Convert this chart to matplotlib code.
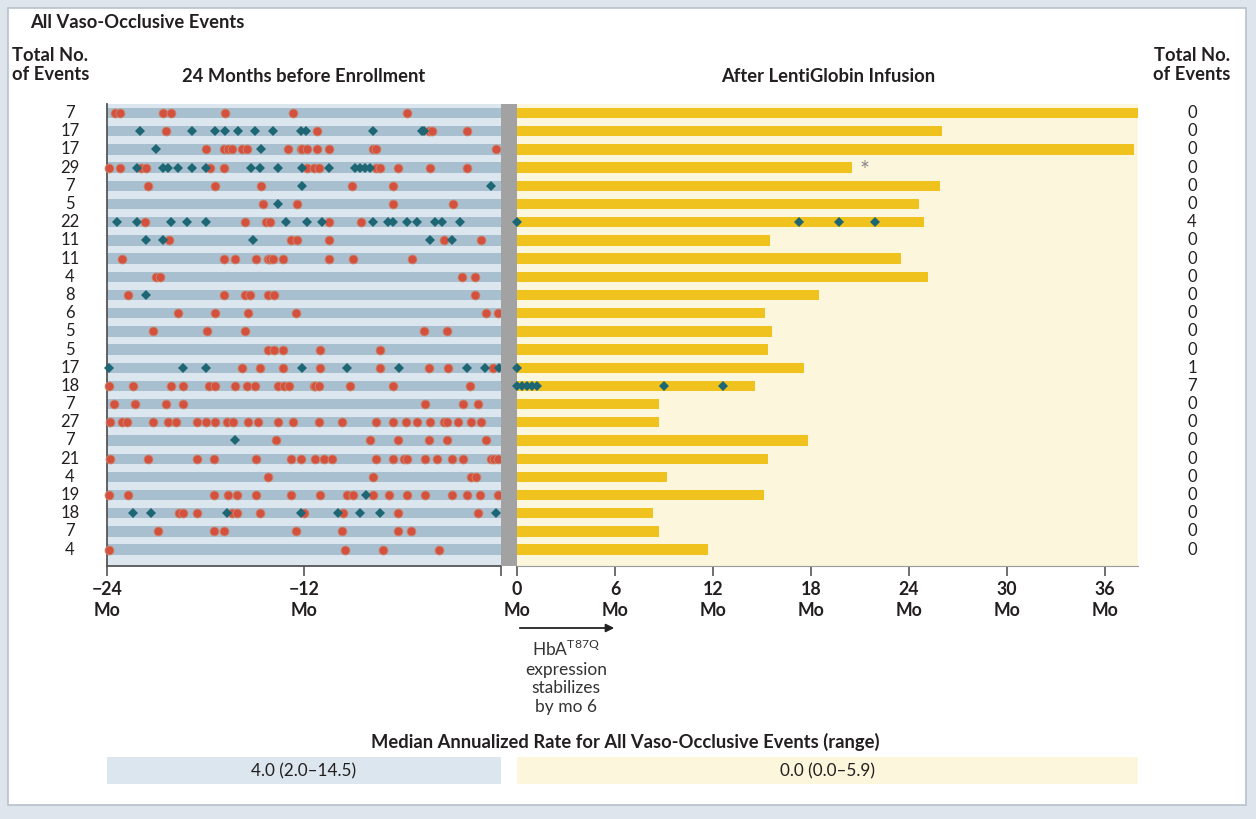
import matplotlib
matplotlib.use("Agg")
import matplotlib.pyplot as plt
from matplotlib.patches import Rectangle, FancyArrowPatch
from matplotlib.transforms import blended_transform_factory

plt.rcParams['font.family'] = ['Lato', 'DejaVu Sans']

# ---- data (months relative to enrollment / infusion) ----
total_before = [7, 17, 17, 29, 7, 5, 22, 11, 11, 4, 8, 6, 5, 5, 17, 18, 7, 27, 7, 21, 4, 19, 18, 7, 4]
total_after = [0, 0, 0, 0, 0, 0, 4, 0, 0, 0, 0, 0, 0, 0, 1, 7, 0, 0, 0, 0, 0, 0, 0, 0, 0]

# follow-up after LentiGlobin infusion (months)
followup = [38.0, 26.0, 37.8, 20.5, 25.9, 24.6, 24.9, 15.5, 23.5, 25.2, 18.5, 15.2, 15.6,
            15.4, 17.6, 14.6, 8.7, 8.7, 17.8, 15.4, 9.2, 15.1, 8.3, 8.7, 11.7]

# events before enrollment, red (circle) markers
red_before = [
    [-23.5, -23.2, -20.6, -20.1, -16.8, -12.7, -5.7],
    [-20.4, -11.2, -4.4, -4.2, -2.1],
    [-18.0, -16.9, -16.6, -16.4, -15.8, -15.5, -13.0, -12.2, -12.1, -11.8, -11.2, -10.5, -7.8, -7.6, -0.3],
    [-23.9, -23.2, -21.9, -21.6, -17.7, -16.9, -11.8, -11.4, -11.1, -7.6, -7.4, -6.3, -4.3, -2.1],
    [-21.5, -17.4, -14.6, -9.1, -6.6],
    [-14.5, -12.4, -6.6, -2.9],
    [-21.7, -15.6, -14.3, -14.1, -10.5, -8.5],
    [-20.2, -12.8, -12.4, -10.5, -3.5, -1.2],
    [-23.1, -16.9, -16.2, -14.9, -14.2, -14.1, -13.9, -13.3, -10.5, -9.0, -5.4],
    [-21.0, -20.8, -2.4, -1.6],
    [-22.7, -16.9, -15.6, -15.3, -14.2, -13.8, -1.6],
    [-19.7, -17.4, -15.4, -12.5, -0.9, -0.2],
    [-21.2, -17.9, -15.6, -4.7, -3.3],
    [-14.2, -13.8, -13.3, -11.0, -7.4],
    [-15.8, -14.7, -13.3, -11.0, -7.4, -4.4, -3.2, -0.5],
    [-23.9, -22.4, -20.1, -19.4, -17.8, -17.4, -16.2, -15.5, -15.0, -13.6, -13.2, -12.9,
     -11.4, -11.3, -11.1, -9.2, -6.6, -1.9],
    [-23.6, -22.3, -20.4, -19.4, -4.6, -2.3, -1.4],
    [-23.8, -23.1, -22.8, -21.2, -20.3, -19.8, -18.5, -18.0, -17.4, -16.7, -16.3, -15.4, -14.8,
     -13.6, -12.7, -11.1, -9.7, -7.6, -6.6, -5.8, -5.1, -4.3, -3.5, -3.3, -2.6, -1.8, -1.2],
    [-13.7, -8.0, -6.3, -4.4, -3.3, -0.9],
    [-23.8, -21.5, -18.5, -17.5, -14.9, -12.8, -12.2, -11.3, -10.8, -10.3, -7.6, -6.6, -5.9,
     -5.7, -4.6, -3.9, -3.0, -2.3, -0.6, -0.4, -0.2],
    [-14.2, -7.8, -1.8, -1.5],
    [-23.9, -22.7, -17.5, -16.6, -16.1, -14.9, -12.8, -11.0, -9.4, -9.0, -7.8, -6.8, -5.7,
     -4.6, -3.0, -2.1, -1.3, -0.2],
    [-19.6, -19.4, -18.5, -16.4, -16.1, -14.7, -12.0, -9.6, -6.3, -1.4],
    [-20.9, -17.5, -16.9, -12.5, -9.7, -6.3, -5.5],
    [-23.9, -9.5, -7.2, -3.8],
]

# events before enrollment, teal (diamond) markers
teal_before = [
    [],
    [-22.0, -18.8, -17.4, -16.8, -16.0, -15.0, -13.9, -12.2, -11.9, -7.8, -4.8, -4.7],
    [-21.0, -14.6],
    [-22.2, -20.6, -20.3, -19.7, -18.8, -18.0, -15.2, -14.7, -13.6, -12.1, -10.5, -8.9, -8.6, -8.3, -8.0],
    [-12.1, -0.6],
    [-13.6],
    [-23.4, -22.2, -20.1, -19.1, -18.0, -13.1, -11.8, -10.9, -7.8, -6.9, -6.6, -5.7, -5.1, -4.0, -3.6, -2.5],
    [-21.6, -20.6, -15.1, -4.3, -3.0],
    [], [], [-21.6], [], [], [],
    [-23.9, -19.4, -18.0, -12.1, -9.4, -6.2, -2.1, -1.0, -0.1],
    [], [], [],
    [-16.2],
    [], [],
    [-8.2],
    [-22.4, -21.3, -16.7, -12.2, -9.9, -8.6, -7.4, -0.3],
    [], [],
]

# events after infusion (teal diamonds)
teal_after = {7: [0.0, 17.3, 19.7, 21.9], 15: [0.0], 16: [0.0, 0.3, 0.6, 0.9, 1.2, 9.0, 12.6]}

before_ticks = [-24, -12, 0]
after_ticks = [0, 6, 12, 18, 24, 30, 36]
rate_before = "4.0 (2.0\u201314.5)"
rate_after = "0.0 (0.0\u20135.9)"

# ---- styling ----
W, H = 1256, 819
BLUE_BG = '#dce6ee'
BLUE_STRIPE = '#a8bfd0'
CREAM = '#fbf6dc'
YELLOW = '#efc21d'
RED = '#d5513f'
TEAL = '#1d6674'
GRAY = '#a2a2a2'
TXT = '#231f20'
FS_HEAD = 13.2


def px_rect(x0, y0, x1, y1):
    return [x0 / W, 1 - y1 / H, (x1 - x0) / W, (y1 - y0) / H]


fig = plt.figure(figsize=(W / 100, H / 100), dpi=100)
fig.patch.set_facecolor('#dfe5ec')
fig.patches.append(Rectangle((8 / W, 1 - 805 / H), 1238 / W, 797 / H, transform=fig.transFigure,
                             facecolor='white', edgecolor='#b8c2cc', lw=1.2, zorder=-5))

rows = list(range(1, len(total_before) + 1))
ylim = (25.9, 0.5)

ax_l = fig.add_axes(px_rect(107, 104, 501, 566))
ax_g = fig.add_axes(px_rect(501, 104, 517, 566))
ax_r = fig.add_axes(px_rect(517, 104, 1138, 566))

# left panel
ax_l.set_facecolor(BLUE_BG)
ax_l.barh(rows, 25, left=-24.5, height=0.57, color=BLUE_STRIPE, zorder=1)
for r, xs in zip(rows, red_before):
    ax_l.plot(xs, [r] * len(xs), 'o', ms=6.4, color=RED, mec='#c98a6e', mew=0.6, zorder=3, clip_on=False)
for r, xs in zip(rows, teal_before):
    ax_l.plot(xs, [r] * len(xs), 'D', ms=5.3, color=TEAL, mew=0, zorder=4, clip_on=False)
ax_l.set_xlim(-24, 0)
ax_l.set_ylim(*ylim)
ax_l.set_yticks([])
ax_l.set_xticks(before_ticks)
# the 0 label is shared with the right panel
ax_l.set_xticklabels([f"\u2212{-t}\nMo" if t < 0 else "" for t in before_ticks])
for s in ['top', 'right']:
    ax_l.spines[s].set_visible(False)
for s in ['left', 'bottom']:
    ax_l.spines[s].set_color('#555555')
    ax_l.spines[s].set_linewidth(1.3)

# gray separator
ax_g.set_facecolor(GRAY)
ax_g.set_xticks([])
ax_g.set_yticks([])
for s in ax_g.spines.values():
    s.set_visible(False)

# right panel
ax_r.set_facecolor(CREAM)
ax_r.barh(rows, followup, left=0, height=0.57, color=YELLOW, zorder=1)
for r, xs in teal_after.items():
    ax_r.plot(xs, [r] * len(xs), 'D', ms=5.3, color=TEAL, mew=0, zorder=4, clip_on=False)
ax_r.text(followup[3] + 0.45, 4.15, '*', color='#888888', fontsize=17, va='center', ha='left')
ax_r.set_xlim(0, 38.03)
ax_r.set_ylim(*ylim)
ax_r.set_yticks([])
ax_r.set_xticks(after_ticks)
ax_r.set_xticklabels([f"{t}\nMo" for t in after_ticks])
for s in ['top', 'right', 'left']:
    ax_r.spines[s].set_visible(False)
ax_r.spines['bottom'].set_color('#999999')
ax_r.spines['bottom'].set_linewidth(0.8)

for ax in (ax_l, ax_r):
    ax.tick_params(axis='x', direction='out', length=7, width=1.2, color='#555555',
                   labelsize=12.8, labelcolor=TXT, pad=4)
    for lbl in ax.get_xticklabels():
        lbl.set_fontweight('bold')
        lbl.set_linespacing(1.25)

# row totals
tl = blended_transform_factory(fig.transFigure, ax_l.transData)
for r, n_b, n_a in zip(rows, total_before, total_after):
    fig.text(70 / W, r, str(n_b), transform=tl, ha='center', va='center', fontsize=12, color=TXT)
    fig.text(1192 / W, r, str(n_a), transform=tl, ha='center', va='center', fontsize=12, color=TXT)

# headers
fig.text(30 / W, 1 - 22 / H, "All Vaso-Occlusive Events", fontsize=FS_HEAD, fontweight='bold',
         color=TXT, va='center', ha='left')
fig.text(12 / W, 1 - 65 / H, "Total No.\nof Events", fontsize=FS_HEAD, fontweight='bold',
         color=TXT, va='center', ha='left', linespacing=1.1)
fig.text(1192 / W, 1 - 65 / H, "Total No.\nof Events", fontsize=FS_HEAD, fontweight='bold',
         color=TXT, va='center', ha='center', linespacing=1.1)
fig.text(304 / W, 1 - 76 / H, "24 Months before Enrollment", fontsize=FS_HEAD, fontweight='bold',
         color=TXT, va='center', ha='center')
fig.text(828 / W, 1 - 76 / H, "After LentiGlobin Infusion", fontsize=FS_HEAD, fontweight='bold',
         color=TXT, va='center', ha='center')

# HbA annotation
fig.patches.append(FancyArrowPatch((517 / W, 1 - 628 / H), (617 / W, 1 - 628 / H),
                                   transform=fig.transFigure, arrowstyle='-|>',
                                   mutation_scale=12, color='#222222', lw=1.3))
fig.text(566 / W, 1 - 677 / H, "HbA$^{\\mathregular{T87Q}}$\nexpression\nstabilizes\nby mo 6",
         fontsize=12.5, color='#333333', ha='center', va='center', linespacing=1.2)

# median annualized rate
fig.text(625 / W, 1 - 742 / H, "Median Annualized Rate for All Vaso-Occlusive Events (range)",
         fontsize=FS_HEAD, fontweight='bold', color=TXT, ha='center', va='center')
fig.patches.append(Rectangle((107 / W, 1 - 784 / H), 394 / W, 27 / H, transform=fig.transFigure,
                             facecolor=BLUE_BG, edgecolor='none'))
fig.patches.append(Rectangle((517 / W, 1 - 784 / H), 621 / W, 27 / H, transform=fig.transFigure,
                             facecolor=CREAM, edgecolor='none'))
fig.text(304 / W, 1 - 771 / H, rate_before, fontsize=12.3, color=TXT, ha='center', va='center')
fig.text(828 / W, 1 - 771 / H, rate_after, fontsize=12.3, color=TXT, ha='center', va='center')

fig.savefig("out.png", dpi=100, facecolor=fig.get_facecolor())
